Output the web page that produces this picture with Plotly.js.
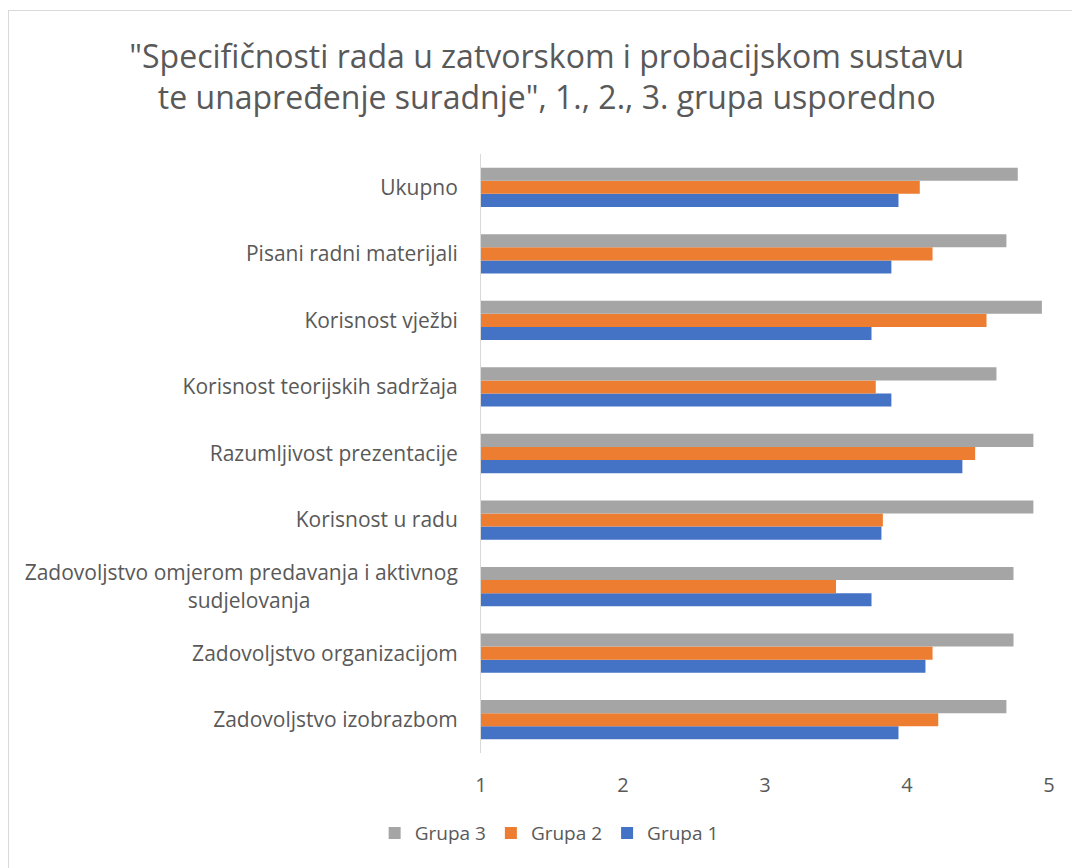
<!DOCTYPE html>
<html>
<head>
<meta charset="utf-8">
<script src="https://cdn.plot.ly/plotly-3.0.1.min.js"></script>
<style>
html,body{margin:0;padding:0;background:#fff;overflow:hidden;}
#chart{width:1072px;height:868px;}
#frame{position:absolute;left:8px;top:10px;width:1080px;height:880px;border:1.5px solid #d9d9d9;pointer-events:none;}
</style>
</head>
<body>
<div id="chart"></div>
<div id="frame"></div>
<script>
const categories = [
  "Ukupno",
  "Pisani radni materijali",
  "Korisnost vježbi",
  "Korisnost teorijskih sadržaja",
  "Razumljivost prezentacije",
  "Korisnost u radu",
  "Zadovoljstvo omjerom predavanja i aktivnog<br>sudjelovanja" + "\u00a0".repeat(27),
  "Zadovoljstvo organizacijom",
  "Zadovoljstvo izobrazbom"
];
const grupa1 = [3.94, 3.89, 3.75, 3.89, 4.39, 3.82, 3.75, 4.13, 3.94];
const grupa2 = [4.09, 4.18, 4.56, 3.78, 4.48, 3.83, 3.50, 4.18, 4.22];
const grupa3 = [4.78, 4.70, 4.95, 4.63, 4.89, 4.89, 4.75, 4.75, 4.70];
const xTicks = [1, 2, 3, 4, 5];

const font = "'Open Sans', sans-serif";
const txt = "#595959";

const traces = [
  {type:"bar", orientation:"h", name:"Grupa 1", y:categories, x:grupa1.map(v=>v-1), base:1, marker:{color:"#4472c4"}},
  {type:"bar", orientation:"h", name:"Grupa 2", y:categories, x:grupa2.map(v=>v-1), base:1, marker:{color:"#ed7d31"}},
  {type:"bar", orientation:"h", name:"Grupa 3", y:categories, x:grupa3.map(v=>v-1), base:1, marker:{color:"#a5a5a5"}}
];

const layout = {
  width: 1072, height: 868,
  paper_bgcolor: "#ffffff", plot_bgcolor: "#ffffff",
  margin: {l: 481, r: 23, t: 154, b: 115},
  title: {
    text: "\"Specifičnosti rada u zatvorskom i probacijskom sustavu<br>te unapređenje suradnje\", 1., 2., 3. grupa usporedno",
    font: {family: font, size: 32, color: txt},
    x: 0.51, xanchor: "center", y: 0.922, yanchor: "middle"
  },
  barmode: "group",
  bargap: 0.41, bargroupgap: 0,
  xaxis: {
    range: [1, 5], tickvals: xTicks, ticktext: xTicks.map(String),
    showgrid: false, zeroline: false, showline: false,
    ticks: "", ticklabelstandoff: 18, automargin: false,
    tickfont: {family: font, size: 20, color: txt},
    fixedrange: true
  },
  yaxis: {
    categoryorder: "array", categoryarray: categories.slice().reverse(),
    showline: true, linecolor: "#d9d9d9", linewidth: 1,
    showgrid: false, zeroline: false, ticks: "",
    ticklabelstandoff: 18, automargin: false,
    tickfont: {family: font, size: 21, color: txt},
    fixedrange: true
  },
  legend: {
    orientation: "h", traceorder: "reversed",
    x: 0.12, xanchor: "center", y: -0.102, yanchor: "top",
    itemwidth: 30,
    font: {family: font, size: 19, color: txt}
  },
  showlegend: true
};

Plotly.newPlot("chart", traces, layout, {displayModeBar: false, staticPlot: true});
</script>
</body>
</html>
